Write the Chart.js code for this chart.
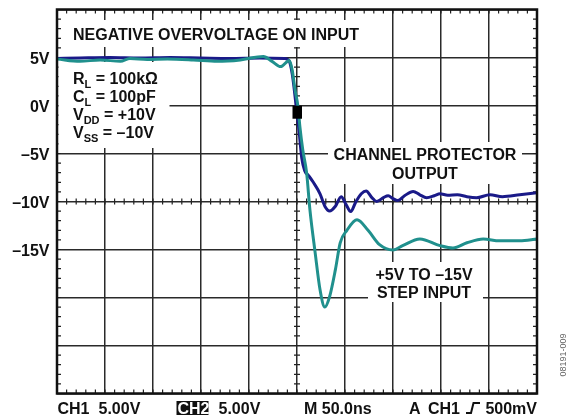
<!DOCTYPE html>
<html>
<head>
<meta charset="utf-8">
<script src="https://cdn.jsdelivr.net/npm/chart.js"></script>
<style>
  html, body { margin: 0; padding: 0; background: #fff; }
</style>
</head>
<body>
<canvas id="scope" width="574" height="418"></canvas>
<script>
// time in ns, voltage in V
const outputTime = [0, 24, 55, 86, 118, 149, 180, 211, 237, 242, 245, 247, 249, 252, 255, 258, 262, 267, 274, 279, 284, 290, 296, 301, 306, 311, 317, 322, 328, 333, 340, 345, 350, 355, 362, 371, 378, 385, 393, 399, 407, 417, 427, 437, 451, 464, 482, 500];
const outputVolts = [4.9, 4.95, 5.0, 4.95, 5.0, 4.95, 4.9, 4.95, 4.9, 4.6, 3.3, 1.8, 0.0, -2.5, -5.5, -6.8, -7.3, -8.0, -9.2, -10.5, -11.0, -10.5, -9.5, -10.3, -11.05, -10.1, -9.2, -8.9, -9.6, -10.0, -9.6, -9.4, -9.7, -9.9, -9.4, -8.95, -9.3, -9.6, -9.4, -9.2, -9.35, -9.3, -9.5, -9.6, -9.3, -9.5, -9.3, -9.1];

const inputTime = [0, 24, 45, 66, 76, 94, 115, 142, 167, 191, 215, 224, 233, 242, 245, 248, 251, 253, 256, 260, 263.5, 269, 274, 279, 284, 290, 295, 302, 312.5, 324, 336, 350, 360, 378, 399, 412.5, 427, 444, 461, 482, 500];
const inputVolts = [4.85, 4.6, 4.75, 4.6, 4.9, 4.8, 4.85, 4.75, 4.6, 4.75, 5.1, 4.6, 4.05, 4.7, 3.7, 1.6, -0.1, -2.2, -4.6, -7.0, -10.9, -15.4, -19.2, -21.0, -19.9, -17.1, -14.3, -13.0, -11.9, -13.0, -14.5, -15.05, -14.6, -13.9, -14.6, -14.85, -14.3, -13.9, -14.1, -14.1, -13.9];

const yTickValues = [5, 0, -5, -10, -15];
const yTickLabels = ["5V", "0V", "\u20135V", "\u201310V", "\u201315V"];

const triggerTime = 250;
const triggerVolts = -0.7;

const toPoints = (xs, ys) => xs.map((t, i) => ({ x: t, y: ys[i] }));

const FONT = "'Liberation Sans', Arial, sans-serif";
const BOLD = "bold 16px " + FONT;

function whiteBox(ctx, x, y, w, h) {
  ctx.fillStyle = "#fff";
  ctx.fillRect(x, y, w, h);
}

// text with subscript, e.g. R_L
function subText(ctx, x, y, main, sub, rest) {
  ctx.textAlign = "left";
  ctx.font = BOLD;
  ctx.fillText(main, x, y);
  x += ctx.measureText(main).width;
  ctx.font = "bold 11px " + FONT;
  ctx.fillText(sub, x, y + 4);
  x += ctx.measureText(sub).width;
  ctx.font = BOLD;
  ctx.fillText(rest, x, y);
}

const scopeOverlay = {
  id: "scopeOverlay",
  beforeDatasetsDraw(chart) {
    const { ctx, chartArea: a, scales: { x, y } } = chart;
    ctx.save();

    // minor ticks on border and center lines
    const cx = x.getPixelForValue(250);
    const cy = y.getPixelForValue(-10);
    ctx.strokeStyle = "#222";
    ctx.lineWidth = 1.2;
    ctx.beginPath();
    for (let t = 0; t <= 500; t += 10) {
      const px = x.getPixelForValue(t);
      ctx.moveTo(px, a.top); ctx.lineTo(px, a.top + 4);
      ctx.moveTo(px, a.bottom); ctx.lineTo(px, a.bottom - 4);
      ctx.moveTo(px, cy - 3); ctx.lineTo(px, cy + 3);
    }
    for (let v = -30; v <= 10; v += 1) {
      const py = y.getPixelForValue(v);
      ctx.moveTo(a.left, py); ctx.lineTo(a.left + 4, py);
      ctx.moveTo(a.right, py); ctx.lineTo(a.right - 4, py);
      ctx.moveTo(cx - 3, py); ctx.lineTo(cx + 3, py);
    }
    ctx.stroke();

    // y labels
    ctx.fillStyle = "#111";
    ctx.font = BOLD;
    ctx.textAlign = "right";
    ctx.textBaseline = "alphabetic";
    yTickValues.forEach((v, i) => {
      ctx.fillText(yTickLabels[i], 49.5, y.getPixelForValue(v) + 6);
    });

    // annotations with white backing
    whiteBox(ctx, 62, 20, 308, 27);
    whiteBox(ctx, a.left + 1.5, 62, 111, 86);
    whiteBox(ctx, 328, 142, 194, 42);
    whiteBox(ctx, 368, 262, 115, 40);

    ctx.fillStyle = "#111";
    ctx.font = BOLD;
    ctx.textAlign = "left";
    ctx.fillText("NEGATIVE OVERVOLTAGE ON INPUT", 73, 40);

    subText(ctx, 73, 84, "R", "L", " = 100k\u03a9");
    subText(ctx, 73, 101.7, "C", "L", " = 100pF");
    subText(ctx, 73, 120, "V", "DD", " = +10V");
    subText(ctx, 73, 137.5, "V", "SS", " = \u201310V");

    ctx.font = BOLD;
    ctx.textAlign = "center";
    ctx.fillText("CHANNEL PROTECTOR", 425, 159.5);
    ctx.fillText("OUTPUT", 425, 178.5);
    ctx.fillText("+5V TO \u201315V", 424, 279.5);
    ctx.fillText("STEP INPUT", 424, 298);

    ctx.restore();
  },
  afterDatasetsDraw(chart) {
    const { ctx, chartArea: a, scales: { x, y } } = chart;
    ctx.save();

    // trigger marker
    const mx = x.getPixelForValue(triggerTime);
    const my = y.getPixelForValue(triggerVolts);
    ctx.fillStyle = "#000";
    ctx.fillRect(mx - 4.5, my - 6.5, 9.5, 13);

    // frame
    ctx.strokeStyle = "#111";
    ctx.lineWidth = 2.5;
    ctx.strokeRect(a.left, a.top, a.right - a.left, a.bottom - a.top);

    // bottom status line
    const base = 413.5;
    ctx.fillStyle = "#111";
    ctx.font = BOLD;
    ctx.textAlign = "left";
    ctx.fillText("CH1", 57.5, base);
    ctx.fillText("5.00V", 98.5, base);
    ctx.fillRect(176.5, 401, 32, 14);
    ctx.fillStyle = "#fff";
    ctx.fillText("CH2", 177.5, base);
    ctx.fillStyle = "#111";
    ctx.fillText("5.00V", 218.5, base);
    ctx.fillText("M 50.0ns", 304, base);
    ctx.fillText("A", 409, base);
    ctx.fillText("CH1", 428, base);
    ctx.textAlign = "right";
    ctx.fillText("500mV", 537, base);

    // trigger edge symbol
    ctx.strokeStyle = "#111";
    ctx.lineWidth = 2;
    ctx.beginPath();
    ctx.moveTo(466, 413);
    ctx.lineTo(471, 413);
    ctx.lineTo(473.5, 403);
    ctx.lineTo(480, 403);
    ctx.stroke();

    // figure id
    ctx.save();
    ctx.translate(566, 355);
    ctx.rotate(-Math.PI / 2);
    ctx.fillStyle = "#666";
    ctx.font = "9px " + FONT;
    ctx.textAlign = "center";
    ctx.fillText("08191-009", 0, 0);
    ctx.restore();

    ctx.restore();
  },
};

new Chart(document.getElementById("scope"), {
  type: "line",
  data: {
    datasets: [
      {
        label: "+5V to \u201315V step input",
        data: toPoints(inputTime, inputVolts),
        borderColor: "#20908d",
        borderWidth: 3,
        pointRadius: 0,
        cubicInterpolationMode: "monotone",
      },
      {
        label: "Channel protector output",
        data: toPoints(outputTime, outputVolts),
        borderColor: "#1a1a88",
        borderWidth: 3,
        pointRadius: 0,
        cubicInterpolationMode: "monotone",
      },
    ],
  },
  options: {
    responsive: false,
    animation: false,
    layout: { padding: { left: 57, top: 9.5, right: 37, bottom: 24.5 } },
    plugins: {
      legend: { display: false },
      tooltip: { enabled: false },
    },
    scales: {
      x: {
        type: "linear",
        min: 0,
        max: 500,
        ticks: { stepSize: 50, display: false },
        grid: { color: "#2a2a2a", lineWidth: 1.5, drawTicks: false },
        border: { display: false },
      },
      y: {
        type: "linear",
        min: -30,
        max: 10,
        ticks: { stepSize: 5, display: false },
        grid: { color: "#2a2a2a", lineWidth: 1.5, drawTicks: false },
        border: { display: false },
      },
    },
  },
  plugins: [scopeOverlay],
});
</script>
</body>
</html>
